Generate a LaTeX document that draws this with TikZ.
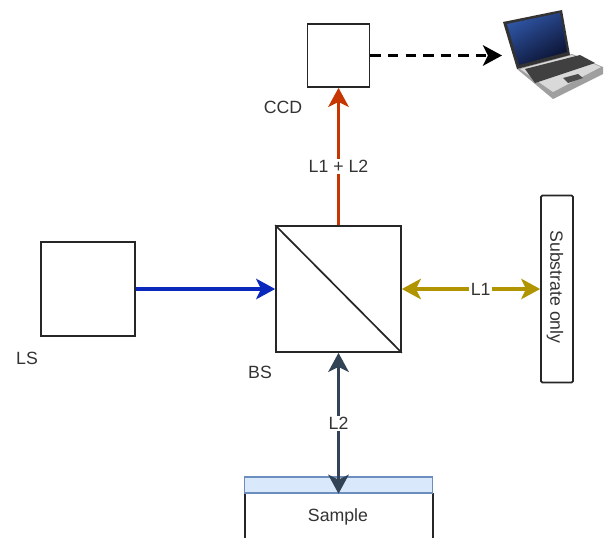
\documentclass[tikz,border=0pt]{standalone}
\usepackage{fontspec}
\setmainfont{Liberation Sans}
\usetikzlibrary{arrows.meta}
\definecolor{lsblue}{HTML}{0A28BC}
\definecolor{ccdred}{HTML}{C73500}
\definecolor{subgold}{HTML}{B09500}
\definecolor{samslate}{HTML}{314354}
\definecolor{capfill}{HTML}{DAE8FC}
\definecolor{capline}{HTML}{6C8EBF}
\definecolor{txt}{HTML}{333333}
\definecolor{scrlight}{HTML}{8FA8D8}
\definecolor{scrleft}{HTML}{2F55A5}
\definecolor{scrdark}{HTML}{0B1230}
\tikzset{
	box/.style={draw=black!85,line width=1.2pt,fill=white,inner sep=0pt},
	lbl/.style={text=txt,font=\fontsize{12.6}{14}\selectfont,inner sep=1pt},
	ray/.style={line width=2.3pt,-{Stealth[length=13.5pt,width=14.5pt,inset=3.5pt]}},
	biray/.style={line width=2.3pt,{Stealth[length=13.5pt,width=14.5pt,inset=3.5pt]}-{Stealth[length=13.5pt,width=14.5pt,inset=3.5pt]}}
}
\begin{document}
\begin{tikzpicture}[x=0.025cm,y=-0.025cm]
\useasboundingbox (0,0) rectangle (604,538);

% boxes
\node[box,minimum width=62*0.025cm,minimum height=63*0.025cm] (ccd) at (338.5,55.5) {};
\node[box,minimum width=94*0.025cm,minimum height=94*0.025cm] (ls) at (88,289) {};
\node[box,minimum width=125*0.025cm,minimum height=126*0.025cm] (bs) at (338.5,289) {};
\node[box,rounded corners=1pt,minimum width=32*0.025cm,minimum height=187*0.025cm] (sub) at (557,289) {};
\node[lbl,rotate=-90] (subtext) at (555,287) {Substrate only};
\draw[line width=1.2pt,black!85] (bs.north west) -- (bs.south east);

% sample
\coordinate (topl) at (245,493);
\coordinate (topr) at (433,493);
\coordinate (botl) at (245,540);
\coordinate (botr) at (433,540);
\draw[line width=1.2pt,black!85] (topl) -- (botl);
\draw[line width=1.2pt,black!85] (topr) -- (botr);
\node[draw=capline,line width=1pt,fill=capfill,minimum width=188*0.025cm,minimum height=16*0.025cm,inner sep=0pt] (cap) at (338.5,485) {};
\node[lbl] (sample) at (338,517) {Sample};

% labels
\node[lbl] (ccdlabel) at (283,107) {CCD};
\node[lbl] (lslabel) at (27,358) {LS};
\node[lbl] (bslabel) at (260,372) {BS};

% rays
\draw[ray,lsblue] (ls.east) -- (bs.west);
\draw[ray,ccdred] (bs.north) -- node[lbl,fill=white,pos=0.43] (l12) {L1 + L2} (ccd.south);
\draw[biray,subgold] (bs.east) -- node[lbl,fill=white,pos=0.57] (l1) {L1} (sub.west);
\draw[biray,samslate] (bs.south) -- node[lbl,fill=white,pos=0.5] (l2) {L2} (cap.south);

% data line
\coordinate (pc) at (502,55.5);
\draw[ray,black,dash pattern=on 7.5pt off 5pt] (ccd.east) -- (pc);

% laptop
\fill[gray!75] (517,69) -- (572,54) -- (603,67) -- (603,74) -- (553,99) -- cycle;
\fill[gray!30] (520,69) -- (572,55) -- (601,67) -- (553,92) -- cycle;
\fill[black!75] (525,69) -- (580,55) -- (595,63) -- (535,83) -- cycle;
\fill[black!70] (563,78) -- (578,74) -- (583,78) -- (568,83) -- cycle;
\fill[black!80] (503,22) -- (562,10) -- (570,55) -- (517,69) -- cycle;
\shade[left color=scrleft,middle color=scrlight,right color=scrdark,shading angle=30] (507,24) -- (560,13) -- (567,52) -- (519,65) -- cycle;
\end{tikzpicture}
\end{document}
